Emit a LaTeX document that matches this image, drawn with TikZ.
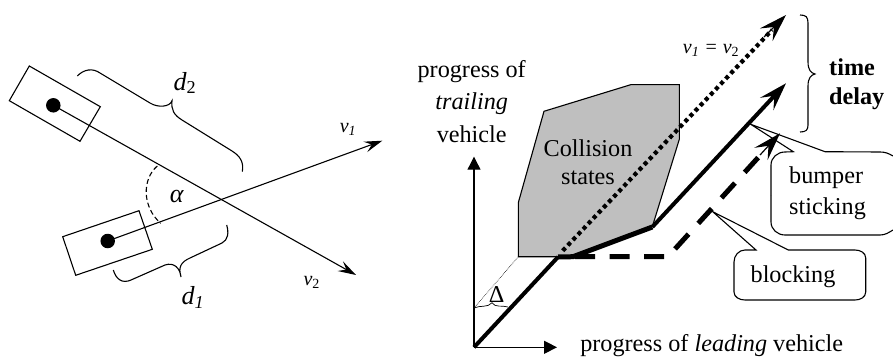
\documentclass[tikz,border=0pt]{standalone}
\usepackage{fontspec}
\setmainfont{Liberation Serif}
\usetikzlibrary{arrows.meta}
\tikzset{
  thinline/.style={draw=black,line width=1.1pt},
  thinarrow/.style={thinline,-{Stealth[length=18pt,width=11pt,inset=7pt]}},
  axisarrow/.style={thinline,-{Triangle[length=13pt,width=13pt]}},
  thickhead/.style={-{Stealth[length=28pt,width=18pt,inset=11pt]}},
  lbl/.style={inner sep=0pt,font=\fontsize{24.2}{26}\selectfont},
  lblbold/.style={lbl,font=\fontsize{24.2}{26}\selectfont\bfseries,anchor=west},
  lblsym/.style={inner sep=0pt,font=\fontsize{26}{28}\selectfont\itshape},
  lblsmall/.style={inner sep=0pt,font=\fontsize{20}{22}\selectfont\itshape},
  car/.style={thinline,line join=miter},
  dotmark/.style={circle,fill=black,minimum size=14.5pt,inner sep=0pt}
}
\begin{document}
\begin{tikzpicture}[x=1pt,y=-1pt]
\useasboundingbox (0,0) rectangle (893,358);
% ---- left part
\node[dotmark] (dotA) at (53.3,105.3) {};
\node[dotmark] (dotB) at (107.7,241) {};
\coordinate (v2end) at (356,275);
\coordinate (v1end) at (382.3,140.7);
\draw[car] (29.3,66) -- (100.3,106.7) -- (80,141.3) -- (9.3,100.7) -- cycle;
\draw[car] (62.7,236.7) -- (139,210.7) -- (152.3,249.3) -- (75.7,275.3) -- cycle;
\draw[thinarrow] (dotA.center) -- (v2end);
\draw[thinarrow] (dotB.center) -- (v1end);
\draw[thinline,dash pattern=on 5pt off 3pt] (157.3,166) .. controls (142,179) and (142,207) .. (160.7,223.3);
\draw[thinline] (77.3,76) .. controls (84,69) and (93,68) .. (100,73) -- (150,103)
  .. controls (158,108) and (170,107) .. (172,100.7)
  .. controls (171,110) and (174,115) .. (182,120) -- (232,151)
  .. controls (240,156) and (244,162) .. (242.3,171.7);
\draw[thinline] (113.3,270) .. controls (116,279) and (122,284) .. (131,280) -- (165,265)
  .. controls (174,262) and (180,268) .. (181,277)
  .. controls (178,267) and (181,262) .. (190,258) -- (222,243)
  .. controls (228,240) and (229,233) .. (226.7,225);
\node[lblsym] (d2) at (185,83) {d\textsubscript{\upshape 2}};
\node[lblsym] (d1) at (193,297.7) {d\textsubscript{1}};
\node[lblsmall] (v1) at (348,129) {v\textsubscript{1}};
\node[lblsmall] (v2) at (311.7,282) {v\textsubscript{\upshape 2}};
\node[lblsym] (alpha) at (176.7,197) {α};
% ---- right part
\coordinate (origin) at (474,347.3);
\coordinate (yend) at (474,156.7);
\coordinate (xend) at (557,347.3);
\draw[axisarrow] (origin) -- (yend);
\draw[axisarrow] (origin) -- (xend);
\draw[thinline,fill=black!25] (518.3,256.7) -- (518.3,202.7) -- (544,111.3) -- (630.7,84.7) -- (679.3,84.7) -- (679.3,139.3) -- (652.3,226.7) -- (573,256.7) -- cycle;
\draw[line width=0.6pt,densely dotted] (518.3,256.7) -- (474,308);
\draw[line width=4.2pt,dash pattern=on 4pt off 3.4pt] (562.7,250.7) -- (772,30);
\draw[line width=1.2pt,thickhead] (764,37) -- (786,15);
\draw[line width=5pt,dash pattern=on 20pt off 14.5pt] (575,256.7) -- (668,256.7) -- (765,150);
\draw[line width=1.2pt,thickhead] (760,155) -- (780,133.3);
\draw[line width=4pt,line join=round] (474,347.3) -- (558,257);
\draw[line width=5pt,line join=round] (558,257) -- (573,256.7) -- (652.3,227);
\draw[line width=4pt,line join=round,thickhead] (652.3,227) -- (786,83.3);
\draw[thinline,line width=0.7pt] (474,308) .. controls (480,305) and (488,308) .. (492,302.7)
  .. controls (495,308) and (502,305) .. (508,307);
\node[lbl] (delta) at (496.7,295) {Δ};
\draw[thinline] (800,15) .. controls (806,15) and (808,17) .. (808,23) -- (808,62)
  .. controls (808,70) and (811,73) .. (815,74)
  .. controls (811,75) and (808,78) .. (808,86) -- (808,125)
  .. controls (808,130) and (806,132) .. (800,132);
\node[lbl] (ylab1) at (471.7,71.7) {progress of};
\node[lbl] (ylab2) at (471.7,104) {\itshape trailing};
\node[lbl] (ylab3) at (471.7,134) {vehicle};
\node[lbl] (coll) at (588,148) {Collision};
\node[lbl] (stat) at (588,178) {states};
\node[lbl] (xlab) at (711.7,346) {progress of \textit{leading} vehicle};
\node[lblsmall] (veq) at (711,50) {v\textsubscript{1} = v\textsubscript{\upshape 2}};
\node[lblbold] (td1) at (829,67.7) {time};
\node[lblbold] (td2) at (829,98.7) {delay};
% callouts
\coordinate (bumptip) at (750.7,124.3);
\coordinate (blocktip) at (712.7,211.7);
\draw[thinline] (771,195) -- (771,165) to[out=90,in=180] (785,152) -- (793.3,151.7) -- (bumptip) -- (825,151.7) -- (880,152) to[out=0,in=150] (893,156);
\draw[thinline] (893,230) to[out=210,in=0] (880,235) -- (785,235) to[out=180,in=-90] (771,222) -- (771,195);
\draw[thinline] (734,275) -- (734,262) to[out=90,in=180] (745,250) -- (756,250) -- (blocktip) -- (788.3,250) -- (855,250) to[out=0,in=90] (865.7,258) -- (865.7,292) to[out=-90,in=0] (855,300) -- (745,300) to[out=180,in=-90] (734,292) -- cycle;
\node[lbl,anchor=west] (bump) at (789,178) {bumper};
\node[lbl,anchor=west] (stick) at (789,209) {sticking};
\node[lbl] (block) at (793,276.5) {blocking};
\end{tikzpicture}
\end{document}
